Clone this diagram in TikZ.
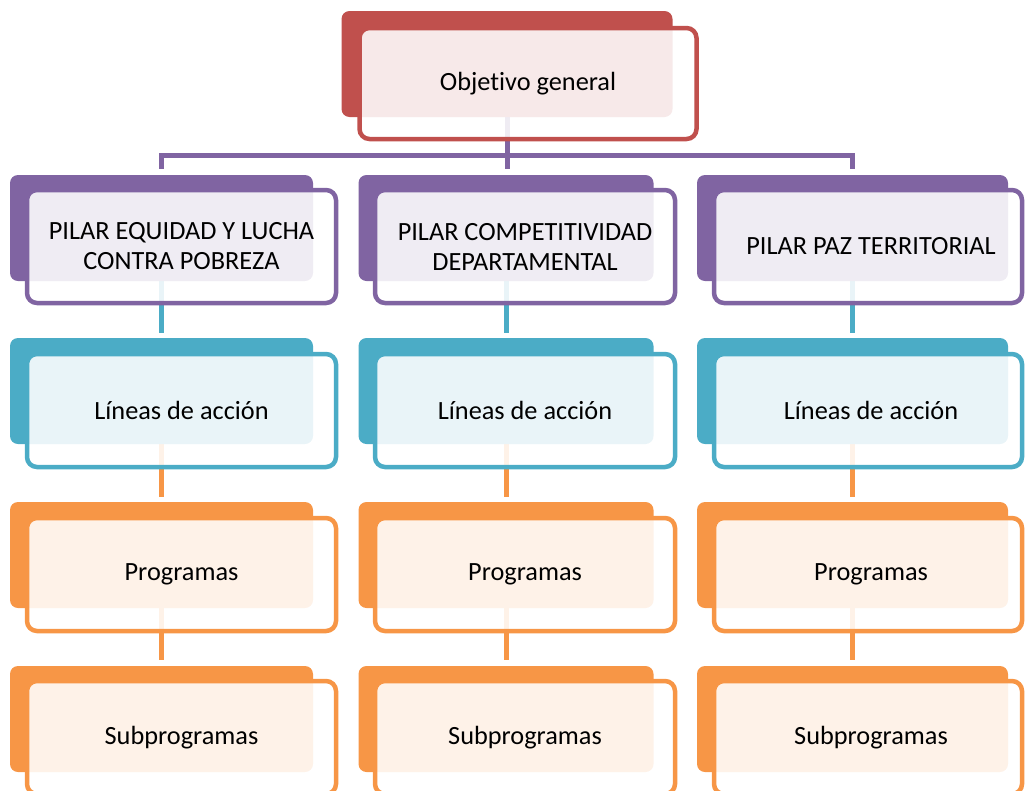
\documentclass[tikz,border=0pt]{standalone}
\usepackage{fontspec}
\setmainfont{Carlito}[Ligatures=NoCommon]
\usetikzlibrary{backgrounds}

\definecolor{rojo}{HTML}{C0504D}
\definecolor{morado}{HTML}{8064A2}
\definecolor{celeste}{HTML}{4BACC6}
\definecolor{naranja}{HTML}{F79646}

\begin{document}
\begin{tikzpicture}[x=1pt, y=-1pt]
      \tikzset{bnode/.style={fill=#1, rounded corners=8pt, minimum height=106pt, inner sep=0pt}}
      \tikzset{fnode/.style={draw=#1, line width=4.5pt, fill=white, fill opacity=0.88, text opacity=1,
          rounded corners=10pt, minimum height=113pt, inner sep=0pt, align=center,
          font=\fontsize{26.3}{30}\selectfont}}
      \tikzset{link/.style={draw=#1, line width=5pt}}

      \clip (0,0) rectangle (1025,790);

      %%%%%%%%%%%%%%%%%%%%%%%%%%%%%%
      %% Objetivo general
      %%%%%%%%%%%%%%%%%%%%%%%%%%%%%%
      \node[bnode=rojo, minimum width=331] (b0) at (507,64) {};
      \node[fnode=rojo, minimum width=337, minimum height=111] (f0) at (528,83.5) {Objetivo general};

      %%%%%%%%%%%%%%%%%%%%%%%%%%%%%%
      %% Pilares
      %%%%%%%%%%%%%%%%%%%%%%%%%%%%%%
      \node[bnode=morado, minimum width=303] (b11) at (161.5,228) {};
      \node[bnode=morado, minimum width=295] (b21) at (506,228) {};
      \node[bnode=morado, minimum width=311] (b31) at (852.5,228) {};

      \node[fnode=morado, minimum width=309] (f11) at (181.5,246.5) {PILAR EQUIDAD Y LUCHA\\CONTRA POBREZA};
      \node[fnode=morado, minimum width=300] (f21) at (525,246.5) {PILAR COMPETITIVIDAD\\DEPARTAMENTAL};
      \node[fnode=morado, minimum width=308] (f31) at (868,246.5) {\hspace{6pt}PILAR PAZ TERRITORIAL};

      %%%%%%%%%%%%%%%%%%%%%%%%%%%%%%
      %% Lineas de accion
      %%%%%%%%%%%%%%%%%%%%%%%%%%%%%%
      \node[bnode=celeste, minimum width=303] (b12) at (161.5,391) {};
      \node[bnode=celeste, minimum width=295] (b22) at (506,391) {};
      \node[bnode=celeste, minimum width=311] (b32) at (852.5,391) {};

      \node[fnode=celeste, minimum width=309] (f12) at (181.5,410.5) {Líneas de acción};
      \node[fnode=celeste, minimum width=300] (f22) at (525,410.5) {Líneas de acción};
      \node[fnode=celeste, minimum width=308] (f32) at (868,410.5) {\hspace{6pt}Líneas de acción};

      %%%%%%%%%%%%%%%%%%%%%%%%%%%%%%
      %% Programas
      %%%%%%%%%%%%%%%%%%%%%%%%%%%%%%
      \node[bnode=naranja, minimum width=303] (b13) at (161.5,555) {};
      \node[bnode=naranja, minimum width=295] (b23) at (506,555) {};
      \node[bnode=naranja, minimum width=311] (b33) at (852.5,555) {};

      \node[fnode=naranja, minimum width=309] (f13) at (181.5,574.5) {Programas};
      \node[fnode=naranja, minimum width=300] (f23) at (525,574.5) {Programas};
      \node[fnode=naranja, minimum width=308] (f33) at (868,574.5) {\hspace{6pt}Programas};

      %%%%%%%%%%%%%%%%%%%%%%%%%%%%%%
      %% Subprogramas
      %%%%%%%%%%%%%%%%%%%%%%%%%%%%%%
      \node[bnode=naranja, minimum width=303] (b14) at (161.5,719) {};
      \node[bnode=naranja, minimum width=295] (b24) at (506,719) {};
      \node[bnode=naranja, minimum width=311] (b34) at (852.5,719) {};

      \node[fnode=naranja, minimum width=309] (f14) at (181.5,737.5) {Subprogramas};
      \node[fnode=naranja, minimum width=300] (f24) at (525,737.5) {Subprogramas};
      \node[fnode=naranja, minimum width=308] (f34) at (868,737.5) {\hspace{6pt}Subprogramas};

      % connectors behind the boxes
      \begin{scope}[on background layer]
        \coordinate (bar) at (507,155.5);
        \draw[link=morado] ([yshift=6pt]b11.north) |- (bar) -| ([yshift=6pt]b31.north);
        \draw[link=morado, shorten >=6pt] (b0.south) -- (b0.south |- b21.north);

        % pilares to lineas
        \draw[link=celeste, shorten >=5pt] (b11.south) -- (b12.north);
        \draw[link=celeste, shorten >=5pt] (b21.south) -- (b22.north);
        \draw[link=celeste, shorten >=5pt] (b31.south) -- (b32.north);

        % lineas to programas
        \draw[link=naranja, shorten >=5pt] (b12.south) -- (b13.north);
        \draw[link=naranja, shorten >=5pt] (b22.south) -- (b23.north);
        \draw[link=naranja, shorten >=5pt] (b32.south) -- (b33.north);

        % programas to subprogramas
        \draw[link=naranja, shorten >=6pt] (b13.south) -- (b14.north);
        \draw[link=naranja, shorten >=6pt] (b23.south) -- (b24.north);
        \draw[link=naranja, shorten >=6pt] (b33.south) -- (b34.north);
      \end{scope}
\end{tikzpicture}
\end{document}
